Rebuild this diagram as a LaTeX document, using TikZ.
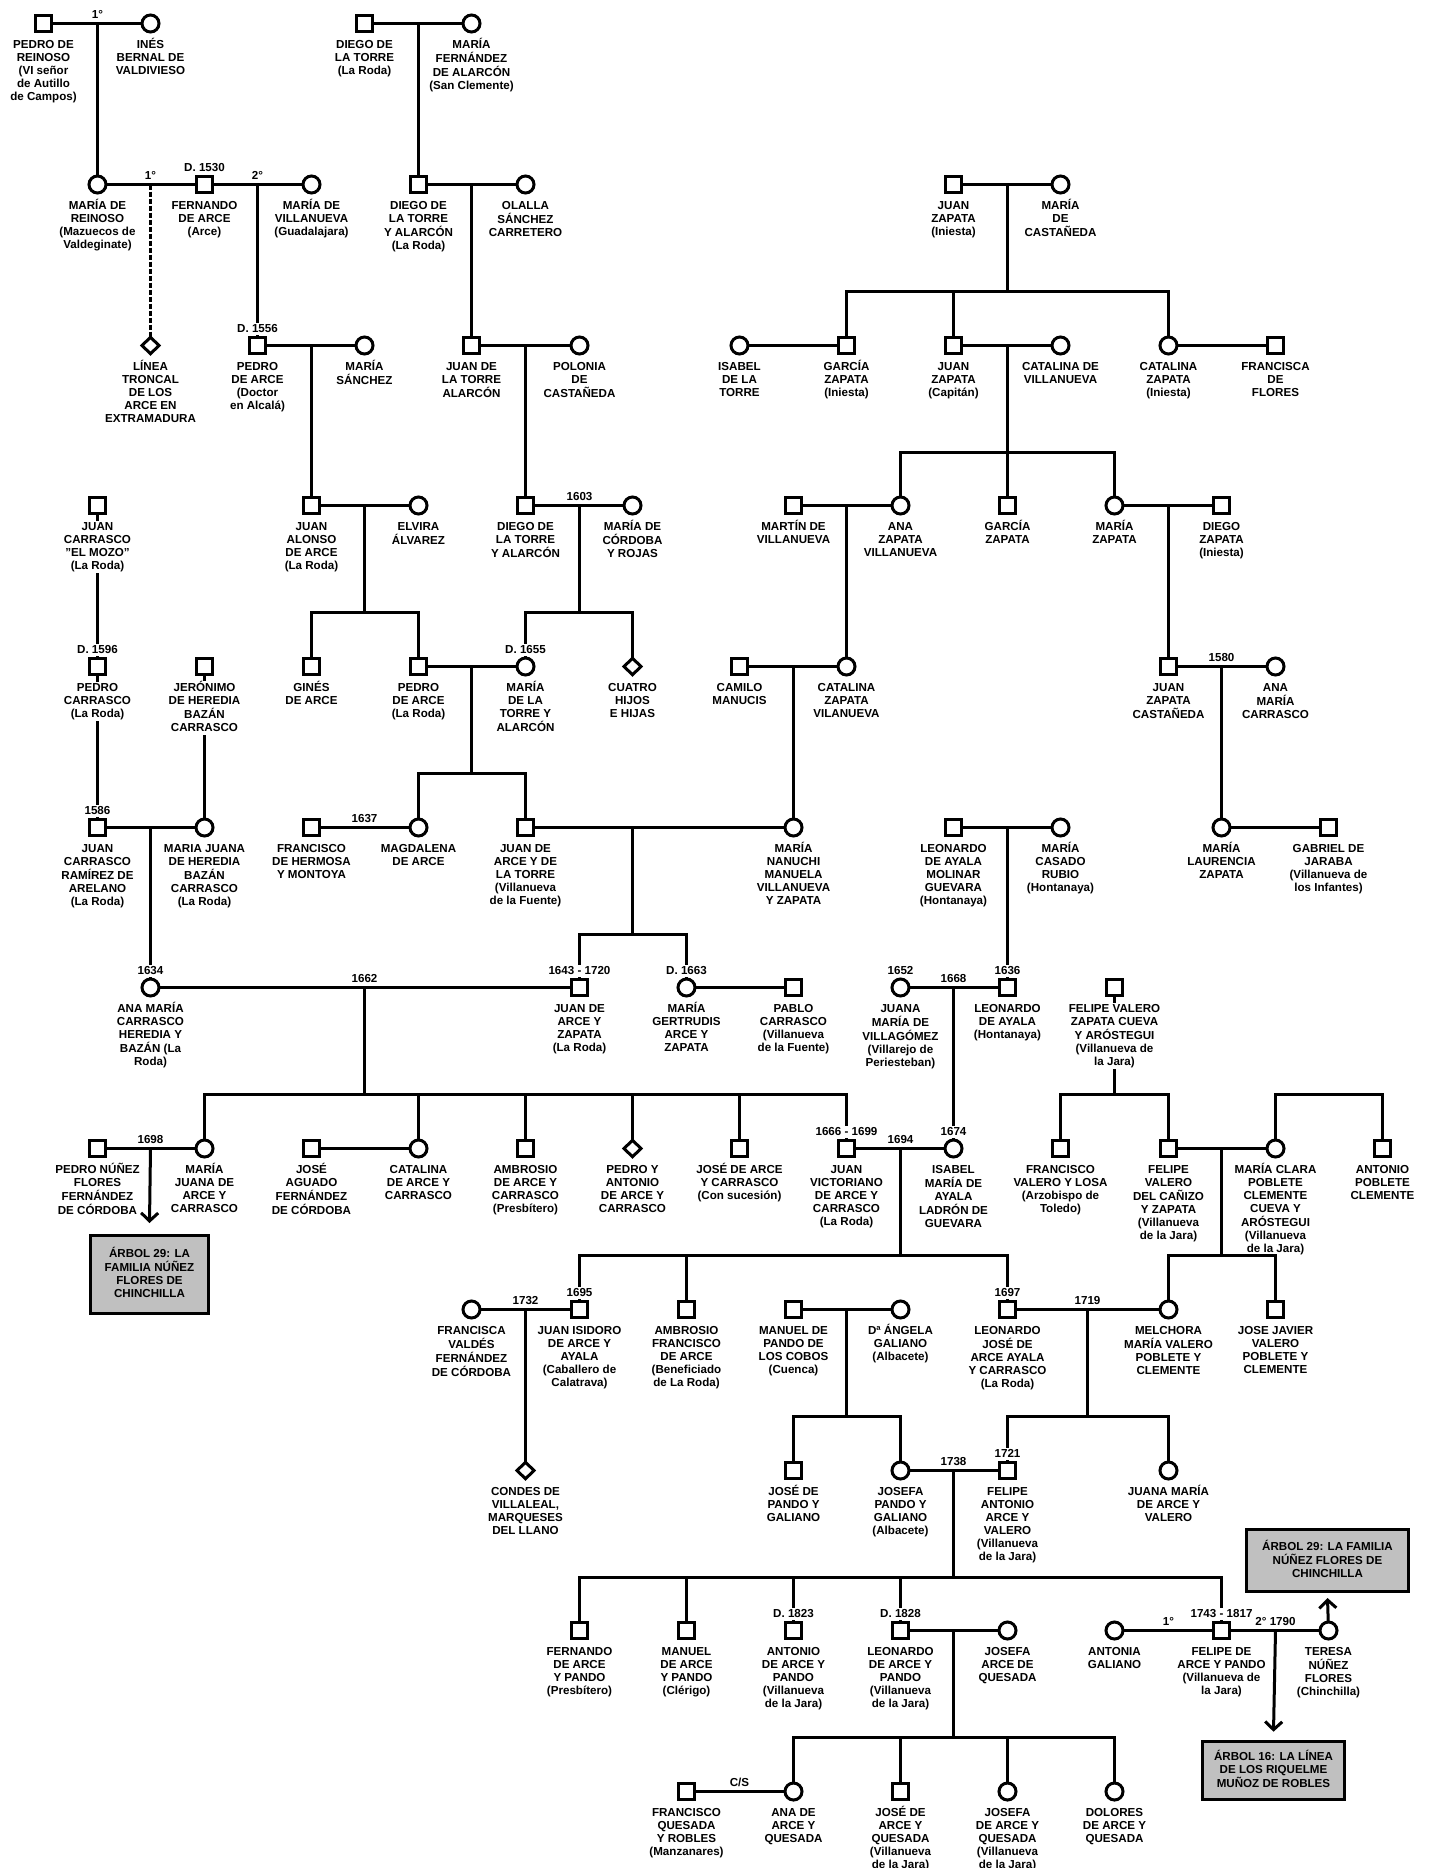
\documentclass[tikz,border=0pt]{standalone}
\usepackage{fontspec}
\setmainfont{Liberation Sans}
\usetikzlibrary{shapes.geometric,arrows.meta}
\pgfdeclarelayer{bg}
\pgfsetlayers{bg,main}
\definecolor{boxgray}{RGB}{192,192,192}
\newcommand\lblfont{\fontsize{11.6}{12.9}\selectfont\bfseries}
\newcommand\lab[1]{\begin{tabular}[t]{@{}c@{}}#1\end{tabular}}
\newcommand\per[6][]{%
  \node[#2] (#3) at ({round(43+53.55*(#4))+0.5},{round(23.3+160.7*(#5))+0.5}) {};
  \node[lbl,#1] (#3-t) at ([yshift=-25pt]#3.center) {\lab{#6}};}
\newcommand\ys[3]{\node[yr,fill=white] (#1) at ([yshift=12.6pt]#2.center) {#3};}
\newcommand\yl[4]{\node[yr] (#1) at ({round(43+53.55*(#2))+0.5},{round(23.3+160.7*(#3))+0.5-5}) {#4};}
\newcommand\J[3]{\coordinate (#1) at ({round(43+53.55*(#2))+0.5},{round(23.3+160.7*(#3))+0.5});}
\newcommand\B[3]{\coordinate (#1) at ({round(43+53.55*(#2))+0.5},{round(23.3+160.7*(#3))+0.5+107});}
\tikzset{
  sq/.style={draw, line width=3pt, fill=white, minimum size=16pt, inner sep=0pt, outer sep=0pt},
  ci/.style={draw, circle, line width=3pt, fill=white, minimum size=17pt, inner sep=0pt, outer sep=0pt},
  di/.style={draw, diamond, line width=3pt, fill=white, minimum width=17pt, minimum height=16.5pt, inner sep=0pt, outer sep=0pt},
  lbl/.style={anchor=base, inner sep=0pt, font=\lblfont},
  yr/.style={anchor=base, inner xsep=1.2pt, inner ysep=2pt, font=\lblfont},
  box/.style={draw, line width=3pt, fill=boxgray, inner sep=0pt, outer sep=0pt, font=\lblfont},
  conn/.style={draw=black, line width=3pt},
  arr/.style={conn, -{Straight Barb[length=8pt,width=17pt,line width=3pt]}},
  dsh/.style={conn, dash pattern=on 5pt off 2pt}
}
\begin{document}
\begin{tikzpicture}[x=1pt,y=-1pt,line width=3pt]
\useasboundingbox (0,0) rectangle (1431,1868);
% ---------- persons ----------
% row 0
\per{sq}{pReinoso}{0}{0}{PEDRO DE\\REINOSO\\(VI señor\\de Autillo\\de Campos)}
\per{ci}{ines}{2}{0}{INÉS\\BERNAL DE\\VALDIVIESO}
\per{sq}{dTorre}{6}{0}{DIEGO DE\\LA TORRE\\(La Roda)}
\per{ci}{mFern}{8}{0}{MARÍA\\FERNÁNDEZ\\DE ALARCÓN\\(San Clemente)}
% row 1
\per{ci}{mReinoso}{1}{1}{MARÍA DE\\REINOSO\\(Mazuecos de\\Valdeginate)}
\per{sq}{fernando}{3}{1}{FERNANDO\\DE ARCE\\(Arce)}
\per{ci}{mVillanueva}{5}{1}{MARÍA DE\\VILLANUEVA\\(Guadalajara)}
\per{sq}{dTorreA}{7}{1}{DIEGO DE\\LA TORRE\\Y ALARCÓN\\(La Roda)}
\per{ci}{olalla}{9}{1}{OLALLA\\SÁNCHEZ\\CARRETERO}
\per{sq}{jZapataI}{17}{1}{JUAN\\ZAPATA\\(Iniesta)}
\per{ci}{mCast}{19}{1}{MARÍA\\DE\\CASTAÑEDA}
% row 2
\per{di}{lineaT}{2}{2}{LÍNEA\\TRONCAL\\DE LOS\\ARCE EN\\EXTRAMADURA}
\per{sq}{pArceDr}{4}{2}{PEDRO\\DE ARCE\\(Doctor\\en Alcalá)}
\per{ci}{mSanchez}{6}{2}{MARÍA\\SÁNCHEZ}
\per{sq}{jTorre}{8}{2}{JUAN DE\\LA TORRE\\ALARCÓN}
\per{ci}{polonia}{10}{2}{POLONIA\\DE\\CASTAÑEDA}
\per{ci}{isabelT}{13}{2}{ISABEL\\DE LA\\TORRE}
\per{sq}{gZapataI}{15}{2}{GARCÍA\\ZAPATA\\(Iniesta)}
\per{sq}{jZapataC}{17}{2}{JUAN\\ZAPATA\\(Capitán)}
\per{ci}{cVillanueva}{19}{2}{CATALINA DE\\VILLANUEVA}
\per{ci}{cZapataI}{21}{2}{CATALINA\\ZAPATA\\(Iniesta)}
\per{sq}{fFlores}{23}{2}{FRANCISCA\\DE\\FLORES}
% row 3
\per[fill=white]{sq}{jcm}{1}{3}{JUAN\\CARRASCO\\"EL MOZO"\\(La Roda)}
\per{sq}{jAlonso}{5}{3}{JUAN\\ALONSO\\DE ARCE\\(La Roda)}
\per{ci}{elvira}{7}{3}{ELVIRA\\ÁLVAREZ}
\per{sq}{dTorreA3}{9}{3}{DIEGO DE\\LA TORRE\\Y ALARCÓN}
\per{ci}{mCordoba}{11}{3}{MARÍA DE\\CÓRDOBA\\Y ROJAS}
\per{sq}{martin}{14}{3}{MARTÍN DE\\VILLANUEVA}
\per{ci}{anaZV}{16}{3}{ANA\\ZAPATA\\VILLANUEVA}
\per{sq}{gZapata}{18}{3}{GARCÍA\\ZAPATA}
\per{ci}{mZapata}{20}{3}{MARÍA\\ZAPATA}
\per{sq}{dZapata}{22}{3}{DIEGO\\ZAPATA\\(Iniesta)}
% row 4
\per[fill=white]{sq}{pCarrasco}{1}{4}{PEDRO\\CARRASCO\\(La Roda)}
\per[fill=white]{sq}{jeronimo}{3}{4}{JERÓNIMO\\DE HEREDIA\\BAZÁN\\CARRASCO}
\per{sq}{gines}{5}{4}{GINÉS\\DE ARCE}
\per{sq}{pArceLR}{7}{4}{PEDRO\\DE ARCE\\(La Roda)}
\per{ci}{mTorre}{9}{4}{MARÍA\\DE LA\\TORRE Y\\ALARCÓN}
\per{di}{cuatro}{11}{4}{CUATRO\\HIJOS\\E HIJAS}
\per{sq}{camilo}{13}{4}{CAMILO\\MANUCIS}
\per{ci}{cZV}{15}{4}{CATALINA\\ZAPATA\\VILANUEVA}
\per{sq}{jZC}{21}{4}{JUAN\\ZAPATA\\CASTAÑEDA}
\per{ci}{amCarrasco}{23}{4}{ANA\\MARÍA\\CARRASCO}
% row 5
\per{sq}{jCR}{1}{5}{JUAN\\CARRASCO\\RAMÍREZ DE\\ARELANO\\(La Roda)}
\per{ci}{mjHeredia}{3}{5}{MARIA JUANA\\DE HEREDIA\\BAZÁN\\CARRASCO\\(La Roda)}
\per{sq}{fHermosa}{5}{5}{FRANCISCO\\DE HERMOSA\\Y MONTOYA}
\per{ci}{magdalena}{7}{5}{MAGDALENA\\DE ARCE}
\per{sq}{jArceT}{9}{5}{JUAN DE\\ARCE Y DE\\LA TORRE\\(Villanueva\\de la Fuente)}
\per{ci}{nanuchi}{14}{5}{MARÍA\\NANUCHI\\MANUELA\\VILLANUEVA\\Y ZAPATA}
\per{sq}{lMolinar}{17}{5}{LEONARDO\\DE AYALA\\MOLINAR\\GUEVARA\\(Hontanaya)}
\per{ci}{mCasado}{19}{5}{MARÍA\\CASADO\\RUBIO\\(Hontanaya)}
\per{ci}{mLaurencia}{22}{5}{MARÍA\\LAURENCIA\\ZAPATA}
\per{sq}{gJaraba}{24}{5}{GABRIEL DE\\JARABA\\(Villanueva de\\los Infantes)}
% row 6
\per{ci}{amCH}{2}{6}{ANA MARÍA\\CARRASCO\\HEREDIA Y\\BAZÁN (La\\Roda)}
\per{sq}{jArceZ}{10}{6}{JUAN DE\\ARCE Y\\ZAPATA\\(La Roda)}
\per{ci}{mGertrudis}{12}{6}{MARÍA\\GERTRUDIS\\ARCE Y\\ZAPATA}
\per{sq}{pCarrascoV}{14}{6}{PABLO\\CARRASCO\\(Villanueva\\de la Fuente)}
\per{ci}{juanaV}{16}{6}{JUANA\\MARÍA DE\\VILLAGÓMEZ\\(Villarejo de\\Periesteban)}
\per{sq}{lAyala}{18}{6}{LEONARDO\\DE AYALA\\(Hontanaya)}
\per[fill=white]{sq}{fValeroZ}{20}{6}{FELIPE VALERO\\ZAPATA CUEVA\\Y ARÓSTEGUI\\(Villanueva de\\la Jara)}
% row 7
\per{sq}{pNunez}{1}{7}{PEDRO NÚÑEZ\\FLORES\\FERNÁNDEZ\\DE CÓRDOBA}
\per{ci}{mjArce}{3}{7}{MARÍA\\JUANA DE\\ARCE Y\\CARRASCO}
\per{sq}{jAguado}{5}{7}{JOSÉ\\AGUADO\\FERNÁNDEZ\\DE CÓRDOBA}
\per{ci}{cArce}{7}{7}{CATALINA\\DE ARCE Y\\CARRASCO}
\per{sq}{ambrosio}{9}{7}{AMBROSIO\\DE ARCE Y\\CARRASCO\\(Presbítero)}
\per{di}{pedroAnt}{11}{7}{PEDRO Y\\ANTONIO\\DE ARCE Y\\CARRASCO}
\per{sq}{joseAC}{13}{7}{JOSÉ DE ARCE\\Y CARRASCO\\(Con sucesión)}
\per{sq}{jVictoriano}{15}{7}{JUAN\\VICTORIANO\\DE ARCE Y\\CARRASCO\\(La Roda)}
\per{ci}{isabelM}{17}{7}{ISABEL\\MARÍA DE\\AYALA\\LADRÓN DE\\GUEVARA}
\per{sq}{fValeroL}{19}{7}{FRANCISCO\\VALERO Y LOSA\\(Arzobispo de\\Toledo)}
\per{sq}{fValeroC}{21}{7}{FELIPE\\VALERO\\DEL CAÑIZO\\Y ZAPATA\\(Villanueva\\de la Jara)}
\per{ci}{mClara}{23}{7}{MARÍA CLARA\\POBLETE\\CLEMENTE\\CUEVA Y\\ARÓSTEGUI\\(Villanueva\\de la Jara)}
\per{sq}{aPoblete}{25}{7}{ANTONIO\\POBLETE\\CLEMENTE}
% row 8
\per{ci}{fValdes}{8}{8}{FRANCISCA\\VALDÉS\\FERNÁNDEZ\\DE CÓRDOBA}
\per{sq}{jIsidoro}{10}{8}{JUAN ISIDORO\\DE ARCE Y\\AYALA\\(Caballero de\\Calatrava)}
\per{sq}{aFrancisco}{12}{8}{AMBROSIO\\FRANCISCO\\DE ARCE\\(Beneficiado\\de La Roda)}
\per{sq}{mPando}{14}{8}{MANUEL DE\\PANDO DE\\LOS COBOS\\(Cuenca)}
\per{ci}{angela}{16}{8}{Dª ÁNGELA\\GALIANO\\(Albacete)}
\per{sq}{lJose}{18}{8}{LEONARDO\\JOSÉ DE\\ARCE AYALA\\Y CARRASCO\\(La Roda)}
\per{ci}{melchora}{21}{8}{MELCHORA\\MARÍA VALERO\\POBLETE Y\\CLEMENTE}
\per{sq}{jJavier}{23}{8}{JOSE JAVIER\\VALERO\\POBLETE Y\\CLEMENTE}
% row 9
\per{di}{condes}{9}{9}{CONDES DE\\VILLALEAL,\\MARQUESES\\DEL LLANO}
\per{sq}{jPando}{14}{9}{JOSÉ DE\\PANDO Y\\GALIANO}
\per{ci}{josefaP}{16}{9}{JOSEFA\\PANDO Y\\GALIANO\\(Albacete)}
\per{sq}{fAntonio}{18}{9}{FELIPE\\ANTONIO\\ARCE Y\\VALERO\\(Villanueva\\de la Jara)}
\per{ci}{jMariaV}{21}{9}{JUANA MARÍA\\DE ARCE Y\\VALERO}
% row 10
\per{sq}{fernandoP}{10}{10}{FERNANDO\\DE ARCE\\Y PANDO\\(Presbítero)}
\per{sq}{manuelP}{12}{10}{MANUEL\\DE ARCE\\Y PANDO\\(Clérigo)}
\per{sq}{antonioP}{14}{10}{ANTONIO\\DE ARCE Y\\PANDO\\(Villanueva\\de la Jara)}
\per{sq}{leonardoP}{16}{10}{LEONARDO\\DE ARCE Y\\PANDO\\(Villanueva\\de la Jara)}
\per{ci}{josefaQ}{18}{10}{JOSEFA\\ARCE DE\\QUESADA}
\per{ci}{antonia}{20}{10}{ANTONIA\\GALIANO}
\per{sq}{felipeP}{22}{10}{FELIPE DE\\ARCE Y PANDO\\(Villanueva de\\la Jara)}
\per{ci}{teresa}{24}{10}{TERESA\\NÚÑEZ\\FLORES\\(Chinchilla)}
% row 11
\per{sq}{fQuesada}{12}{11}{FRANCISCO\\QUESADA\\Y ROBLES\\(Manzanares)}
\per{ci}{anaQ}{14}{11}{ANA DE\\ARCE Y\\QUESADA}
\per{sq}{joseQ}{16}{11}{JOSÉ DE\\ARCE Y\\QUESADA\\(Villanueva\\de la Jara)}
\per{ci}{josefaAQ}{18}{11}{JOSEFA\\DE ARCE Y\\QUESADA\\(Villanueva\\de la Jara)}
\per{ci}{doloresQ}{20}{11}{DOLORES\\DE ARCE Y\\QUESADA}
% ---------- boxes ----------
\node[box, minimum width=118pt, minimum height=78pt] (box1) at (149.5,1274.5) {\lab{ÁRBOL 29: LA\\FAMILIA NÚÑEZ\\FLORES DE\\CHINCHILLA}};
\node[box, minimum width=162pt, minimum height=62pt] (box2) at (1327.5,1560.5) {\lab{ÁRBOL 29: LA FAMILIA\\NÚÑEZ FLORES DE\\CHINCHILLA}};
\node[box, minimum width=142pt, minimum height=58pt] (box3) at (1273.5,1770.5) {\lab{ÁRBOL 16: LA LÍNEA\\DE LOS RIQUELME\\MUÑOZ DE ROBLES}};
% ---------- year labels above symbols ----------
\ys{yD1530}{fernando}{D. 1530}
\ys{yD1556}{pArceDr}{D. 1556}
\ys{yD1596}{pCarrasco}{D. 1596}
\ys{y1586}{jCR}{1586}
\ys{yD1655}{mTorre}{D. 1655}
\ys{y1634}{amCH}{1634}
\ys{y1643}{jArceZ}{1643 - 1720}
\ys{yD1663}{mGertrudis}{D. 1663}
\ys{y1652}{juanaV}{1652}
\ys{y1636}{lAyala}{1636}
\ys{y1666}{jVictoriano}{1666 - 1699}
\ys{y1674}{isabelM}{1674}
\ys{y1695}{jIsidoro}{1695}
\ys{y1697}{lJose}{1697}
\ys{y1721}{fAntonio}{1721}
\ys{yD1823}{antonioP}{D. 1823}
\ys{yD1828}{leonardoP}{D. 1828}
\ys{y1743}{felipeP}{1743 - 1817}
% ---------- labels on marriage lines ----------
\yl{yA}{1}{0}{1°}
\yl{yB}{2}{1}{1°}
\yl{yC}{4}{1}{2°}
\yl{y1603}{10}{3}{1603}
\yl{y1580}{22}{4}{1580}
\yl{y1637}{6}{5}{1637}
\yl{y1662}{6}{6}{1662}
\yl{y1668}{17}{6}{1668}
\yl{y1698}{2}{7}{1698}
\yl{y1694}{16}{7}{1694}
\yl{y1732}{9}{8}{1732}
\yl{y1719}{19.5}{8}{1719}
\yl{y1738}{17}{9}{1738}
\yl{yCS}{13}{11}{C/S}
\yl{yD}{21}{10}{1°}
\yl{y1790}{23}{10}{2° 1790}
% ---------- junctions ----------
\J{j0a}{1}{0} \J{j0b}{7}{0}
\J{j1a}{2}{1} \J{j1b}{4}{1} \J{j1c}{8}{1} \J{j1d}{18}{1} \B{b1d}{18}{1}
\J{j2a}{5}{2} \J{j2b}{9}{2} \J{j2c}{18}{2} \B{b2c}{18}{2}
\J{j3a}{6}{3} \B{b3a}{6}{3} \J{j3b}{10}{3} \B{b3b}{10}{3} \J{j3c}{15}{3} \J{j3d}{21}{3}
\J{j4a}{8}{4} \B{b4a}{8}{4} \J{j4b}{14}{4} \J{j4c}{22}{4}
\J{j5a}{2}{5} \J{j5b}{11}{5} \B{b5b}{11}{5} \J{j5c}{18}{5}
\J{j6a}{6}{6} \B{b6a}{6}{6} \J{j6b}{17}{6} \B{b6c}{20}{6} \B{b6d}{24}{6}
\J{j7a}{2}{7} \J{j7b}{16}{7} \B{b7b}{16}{7} \J{j7c}{22}{7} \B{b7c}{22}{7}
\J{j8a}{9}{8} \J{j8b}{15}{8} \B{b8b}{15}{8} \J{j8c}{19.5}{8} \B{b8c}{19.5}{8}
\J{j9a}{17}{9} \B{b9a}{17}{9}
\J{j10a}{17}{10} \B{b10a}{17}{10} \J{j10b}{23}{10}
% ---------- connectors ----------
\begin{pgfonlayer}{bg}
\begin{scope}[line width=3pt]
% row 0
\draw[conn] (pReinoso) -- (ines);
\draw[conn] (j0a) -- (mReinoso);
\draw[conn] (dTorre) -- (mFern);
\draw[conn] (j0b) -- (dTorreA);
% row 1
\draw[conn] (mReinoso) -- (fernando) -- (mVillanueva);
\draw[dsh] (j1a) -- (lineaT);
\draw[conn] (j1b) -- (pArceDr);
\draw[conn] (dTorreA) -- (olalla);
\draw[conn] (j1c) -- (jTorre);
\draw[conn] (jZapataI) -- (mCast);
\draw[conn] (j1d) -- (b1d);
\draw[conn] (gZapataI) |- (b1d) -| (cZapataI);
\draw[conn] (jZapataC) -- (jZapataC |- b1d);
% row 2
\draw[conn] (pArceDr) -- (mSanchez);
\draw[conn] (j2a) -- (jAlonso);
\draw[conn] (jTorre) -- (polonia);
\draw[conn] (j2b) -- (dTorreA3);
\draw[conn] (isabelT) -- (gZapataI);
\draw[conn] (jZapataC) -- (cVillanueva);
\draw[conn] (j2c) -- (b2c);
\draw[conn] (anaZV) |- (b2c) -| (mZapata);
\draw[conn] (gZapata) -- (gZapata |- b2c);
\draw[conn] (cZapataI) -- (fFlores);
% row 3
\draw[conn] (jcm) -- (pCarrasco);
\draw[conn] (jAlonso) -- (elvira);
\draw[conn] (j3a) -- (b3a);
\draw[conn] (gines) |- (b3a) -| (pArceLR);
\draw[conn] (dTorreA3) -- (mCordoba);
\draw[conn] (j3b) -- (b3b);
\draw[conn] (mTorre) |- (b3b) -| (cuatro);
\draw[conn] (martin) -- (anaZV);
\draw[conn] (j3c) -- (cZV);
\draw[conn] (mZapata) -- (dZapata);
\draw[conn] (j3d) -- (jZC);
% row 4
\draw[conn] (pCarrasco) -- (jCR);
\draw[conn] (jeronimo) -- (mjHeredia);
\draw[conn] (pArceLR) -- (mTorre);
\draw[conn] (j4a) -- (b4a);
\draw[conn] (magdalena) |- (b4a) -| (jArceT);
\draw[conn] (camilo) -- (cZV);
\draw[conn] (j4b) -- (nanuchi);
\draw[conn] (jZC) -- (amCarrasco);
\draw[conn] (j4c) -- (mLaurencia);
% row 5
\draw[conn] (jCR) -- (mjHeredia);
\draw[conn] (j5a) -- (amCH);
\draw[conn] (fHermosa) -- (magdalena);
\draw[conn] (jArceT) -- (nanuchi);
\draw[conn] (j5b) -- (b5b);
\draw[conn] (jArceZ) |- (b5b) -| (mGertrudis);
\draw[conn] (lMolinar) -- (mCasado);
\draw[conn] (j5c) -- (lAyala);
\draw[conn] (mLaurencia) -- (gJaraba);
% row 6
\draw[conn] (amCH) -- (jArceZ);
\draw[conn] (j6a) -- (b6a);
\draw[conn] (mjArce) |- (b6a) -| (jVictoriano);
\draw[conn] (cArce) -- (cArce |- b6a);
\draw[conn] (ambrosio) -- (ambrosio |- b6a);
\draw[conn] (pedroAnt) -- (pedroAnt |- b6a);
\draw[conn] (joseAC) -- (joseAC |- b6a);
\draw[conn] (mGertrudis) -- (pCarrascoV);
\draw[conn] (juanaV) -- (lAyala);
\draw[conn] (j6b) -- (isabelM);
\draw[conn] (fValeroZ) -- (b6c);
\draw[conn] (fValeroL) |- (b6c) -| (fValeroC);
\draw[conn] (mClara) |- (b6d) -| (aPoblete);
% row 7
\draw[conn] (pNunez) -- (mjArce);
\draw[arr] (j7a) -- ([yshift=12.5pt]box1.north);
\draw[conn] (jAguado) -- (cArce);
\draw[conn] (jVictoriano) -- (isabelM);
\draw[conn] (j7b) -- (b7b);
\draw[conn] (jIsidoro) |- (b7b) -| (lJose);
\draw[conn] (aFrancisco) -- (aFrancisco |- b7b);
\draw[conn] (fValeroC) -- (mClara);
\draw[conn] (j7c) -- (b7c);
\draw[conn] (melchora) |- (b7c) -| (jJavier);
% row 8
\draw[conn] (fValdes) -- (jIsidoro);
\draw[conn] (j8a) -- (condes);
\draw[conn] (mPando) -- (angela);
\draw[conn] (j8b) -- (b8b);
\draw[conn] (jPando) |- (b8b) -| (josefaP);
\draw[conn] (lJose) -- (melchora);
\draw[conn] (j8c) -- (b8c);
\draw[conn] (fAntonio) |- (b8c) -| (jMariaV);
% row 9
\draw[conn] (josefaP) -- (fAntonio);
\draw[conn] (j9a) -- (b9a);
\draw[conn] (fernandoP) |- (b9a) -| (felipeP);
\draw[conn] (manuelP) -- (manuelP |- b9a);
\draw[conn] (antonioP) -- (antonioP |- b9a);
\draw[conn] (leonardoP) -- (leonardoP |- b9a);
% row 10
\draw[conn] (leonardoP) -- (josefaQ);
\draw[conn] (j10a) -- (b10a);
\draw[conn] (anaQ) |- (b10a) -| (doloresQ);
\draw[conn] (joseQ) -- (joseQ |- b10a);
\draw[conn] (josefaAQ) -- (josefaAQ |- b10a);
\draw[conn] (antonia) -- (felipeP) -- (teresa);
\draw[arr] (j10b) -- ([yshift=9.8pt]box3.north);
\draw[arr] (teresa) -- ([yshift=-6.5pt]box2.south);
% row 11
\draw[conn] (fQuesada) -- (anaQ);
\end{scope}
\end{pgfonlayer}
\end{tikzpicture}
\end{document}
